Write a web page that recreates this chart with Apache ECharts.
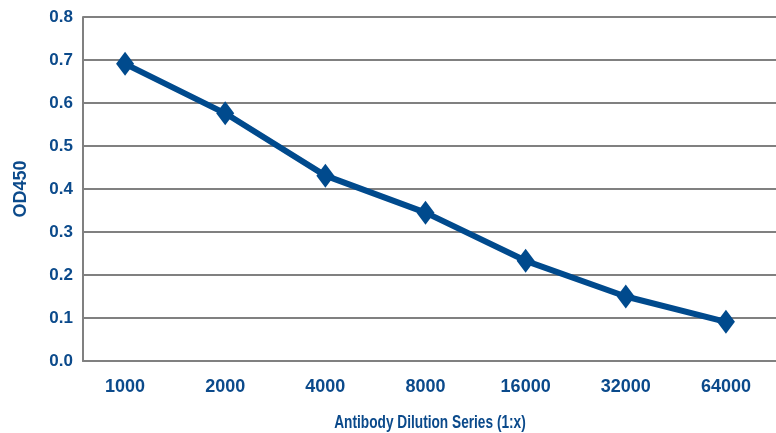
<!DOCTYPE html>
<html>
<head>
<meta charset="utf-8">
<script src="https://cdn.jsdelivr.net/npm/echarts@6/dist/echarts.min.js"></script>
<style>
html,body{margin:0;padding:0;background:#fff;}
#chart{width:776px;height:433px;}
</style>
</head>
<body>
<div id="chart"></div>
<script>
var categories = ['1000', '2000', '4000', '8000', '16000', '32000', '64000'];
var od450 = [0.691, 0.576, 0.431, 0.345, 0.233, 0.150, 0.091];
var xAxisTitle = 'Antibody Dilution Series (1:x)';
var yAxisTitle = 'OD450';

var textColor = '#0b4a8b';
var lineColor = '#004a8d';
var gridColor = '#808080';

var chart = echarts.init(document.getElementById('chart'), null, {renderer: 'canvas'});
var points = od450.map(function (v, i) { return [i, v]; });
var catIdx = categories.map(function (c, i) { return i; });

chart.setOption({
  animation: false,
  grid: {left: 83, top: 17, width: 694, height: 344, containLabel: false},
  graphic: [{
    type: 'text',
    x: 430,
    y: 423,
    scaleX: 0.76,
    style: {
      text: xAxisTitle,
      align: 'center',
      verticalAlign: 'middle',
      fill: textColor,
      font: 'bold 18px "Liberation Sans", Arial, sans-serif'
    }
  }],
  xAxis: {
    type: 'value',
    min: -0.42,
    max: 6.5,
    axisLine: {show: true, onZero: false, lineStyle: {color: gridColor, width: 2}},
    axisTick: {show: false},
    splitLine: {show: false},
    axisLabel: {
      customValues: catIdx,
      formatter: function (v) { return categories[Math.round(v)]; },
      color: textColor, fontFamily: '"Liberation Sans", Arial, sans-serif', fontWeight: 'bold', fontSize: 18, margin: 17
    }
  },
  yAxis: {
    type: 'value',
    min: 0,
    max: 0.8,
    interval: 0.1,
    name: yAxisTitle,
    nameLocation: 'middle',
    nameGap: 53,
    nameRotate: 90,
    nameTextStyle: {color: textColor, fontFamily: '"Liberation Sans", Arial, sans-serif', fontWeight: 'bold', fontSize: 18},
    axisLine: {show: true, onZero: false, lineStyle: {color: gridColor, width: 2}},
    axisTick: {show: false},
    splitLine: {show: true, lineStyle: {color: gridColor, width: 2}},
    axisLabel: {
      formatter: function (v) { return v.toFixed(1); },
      color: textColor, fontFamily: '"Liberation Sans", Arial, sans-serif', fontWeight: 'bold', fontSize: 17, margin: 10
    }
  },
  series: [{
    type: 'line',
    data: points,
    symbol: 'diamond',
    symbolSize: [18, 24],
    lineStyle: {color: lineColor, width: 6},
    itemStyle: {color: lineColor},
    z: 5
  }]
});
</script>
</body>
</html>
